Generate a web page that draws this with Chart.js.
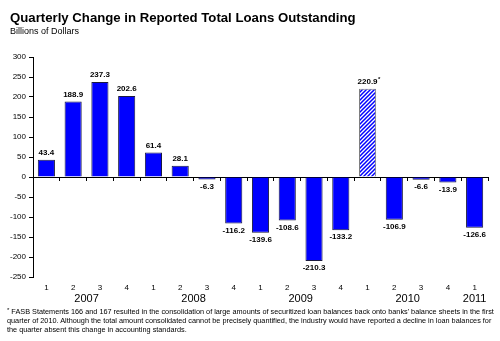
<!DOCTYPE html>
<html>
<head>
    <meta charset="utf-8">
    <title>Quarterly Change in Reported Total Loans Outstanding</title>
    <script src="https://cdn.jsdelivr.net/npm/chart.js@4.4.0/dist/chart.umd.min.js"></script>
    <style>
        body {
            margin: 0;
            background: #fff;
            font-family: "Liberation Sans", Arial, sans-serif;
            color: #000;
        }

        .wrap {
            position: relative;
            width: 500px;
            height: 341px;
            overflow: hidden;
        }

        #loans-chart {
            position: absolute;
            left: 0;
            top: 0;
        }

        .title {
            position: absolute;
            left: 10px;
            top: 10px;
            font-size: 13.2px;
            font-weight: bold;
            white-space: nowrap;
        }

        .subtitle {
            position: absolute;
            left: 10px;
            top: 26px;
            font-size: 9px;
        }

        .note {
            position: absolute;
            left: 7px;
            top: 306px;
            font-size: 7.3px;
            line-height: 9px;
            white-space: nowrap;
        }

        .note sup {
            font-size: 6px;
            vertical-align: 2px;
        }
    </style>
</head>

<body>
    <div class="wrap">
        <canvas id="loans-chart" width="500" height="341"></canvas>
        <div class="title">Quarterly Change in Reported Total Loans Outstanding</div>
        <div class="subtitle">Billions of Dollars</div>
        <div class="note"><sup>*</sup> FASB Statements 166 and 167 resulted in the consolidation of large amounts of securitized loan balances back onto banks' balance sheets in the first<br>quarter of 2010. Although the total amount consolidated cannot be precisely quantified, the industry would have reported a decline in loan balances for<br>the quarter absent this change in accounting standards.</div>
    </div>
    <script>
        // chart data
        const quarterLabels = ['1', '2', '3', '4', '1', '2', '3', '4', '1', '2', '3', '4', '1', '2', '3', '4', '1'];
        const loanChange = [43.4, 188.9, 237.3, 202.6, 61.4, 28.1, -6.3, -116.2, -139.6, -108.6, -210.3, -133.2, 220.9, -106.9, -6.6, -13.9, -126.6];
        const footnoted = [false, false, false, false, false, false, false, false, false, false, false, false, true, false, false, false, false];
        const yearLabels = ['2007', '2008', '2009', '2010', '2011'];
        const yearCenters = [1.5, 5.5, 9.5, 13.5, 16];
        const yMin = -250, yMax = 300, yStep = 50;

        // striped fill for the 2010 Q1 bar
        function makeHatch() {
            const c = document.createElement('canvas');
            c.width = 4; c.height = 4;
            const g = c.getContext('2d');
            g.fillStyle = '#fff';
            g.fillRect(0, 0, 4, 4);
            g.strokeStyle = '#0000ff';
            g.lineWidth = 1.5;
            g.beginPath();
            g.moveTo(-1, 5); g.lineTo(5, -1);
            g.moveTo(-1, 1); g.lineTo(1, -1);
            g.moveTo(3, 5); g.lineTo(5, 3);
            g.stroke();
            return g.createPattern(c, 'repeat');
        }
        const hatch = makeHatch();

        // value labels above / below bars
        const valueLabels = {
            id: 'valueLabels',
            afterDatasetsDraw(chart) {
                const ctx = chart.ctx;
                const meta = chart.getDatasetMeta(0);
                ctx.save();
                ctx.font = 'bold 8px "Liberation Sans", Arial, sans-serif';
                ctx.fillStyle = '#000';
                ctx.textAlign = 'center';
                meta.data.forEach((bar, i) => {
                    const v = loanChange[i];
                    const txt = v.toFixed(1);
                    const pos = v >= 0;
                    ctx.textBaseline = pos ? 'bottom' : 'top';
                    const y = pos ? bar.y - 3 : bar.y + 3;
                    ctx.fillText(txt, bar.x, y);
                    if (footnoted[i]) {
                        const w = ctx.measureText(txt).width;
                        ctx.font = 'bold 6px "Liberation Sans", Arial, sans-serif';
                        ctx.textAlign = 'left';
                        ctx.fillText('*', bar.x + w / 2 + 0.5, y - 3);
                        ctx.font = 'bold 8px "Liberation Sans", Arial, sans-serif';
                        ctx.textAlign = 'center';
                    }
                });
                ctx.restore();
            }
        };

        new Chart(document.getElementById('loans-chart'), {
            type: 'bar',
            data: {
                labels: quarterLabels,
                datasets: [{
                    data: loanChange,
                    backgroundColor: footnoted.map(f => f ? hatch : '#0000ff'),
                    borderColor: footnoted.map(f => f ? '#7f7f7f' : '#1a1a40'),
                    borderWidth: 1,
                    barPercentage: 0.64,
                    categoryPercentage: 1
                }]
            },
            options: {
                responsive: false,
                animation: false,
                events: [],
                layout: { padding: { top: 57, right: 12, bottom: 36, left: 0 } },
                plugins: {
                    legend: { display: false },
                    tooltip: { enabled: false }
                },
                scales: {
                    y: {
                        min: yMin,
                        max: yMax,
                        ticks: { stepSize: yStep, color: '#000', padding: 3, font: { family: '"Liberation Sans", Arial', size: 8 } },
                        grid: { drawOnChartArea: false, drawTicks: true, tickLength: 4, color: '#000' },
                        border: { display: true, color: '#000' },
                        afterFit: s => { s.width = 33; }
                    },
                    x: {
                        position: 'bottom',
                        offset: true,
                        grid: { display: false, drawTicks: false },
                        border: { display: false },
                        ticks: { color: '#000', padding: 6, maxRotation: 0, autoSkip: false, font: { family: '"Liberation Sans", Arial', size: 8 } },
                        afterFit: s => { s.height = 15; }
                    },
                    years: {
                        type: 'linear',
                        axis: 'x',
                        position: 'bottom',
                        weight: 1,
                        offset: false,
                        min: -0.5,
                        max: 16.5,
                        grid: { display: false, drawTicks: false },
                        border: { display: false },
                        afterBuildTicks: s => { s.ticks = yearCenters.map(v => ({ value: v })); },
                        ticks: { color: '#000', padding: 0, autoSkip: false, maxRotation: 0, font: { family: '"Liberation Sans", Arial', size: 11 }, callback: (v, i) => yearLabels[i] },
                        afterFit: s => { s.height = 13; }
                    },
                    zeroLine: {
                        type: 'category',
                        axis: 'x',
                        position: { y: 0 },
                        offset: true,
                        grid: { display: true, drawOnChartArea: false, drawTicks: true, tickLength: 3, color: '#000', offset: true },
                        border: { display: true, color: '#000' },
                        ticks: { display: false }
                    }
                }
            },
            plugins: [valueLabels]
        });
    </script>
</body>

</html>
